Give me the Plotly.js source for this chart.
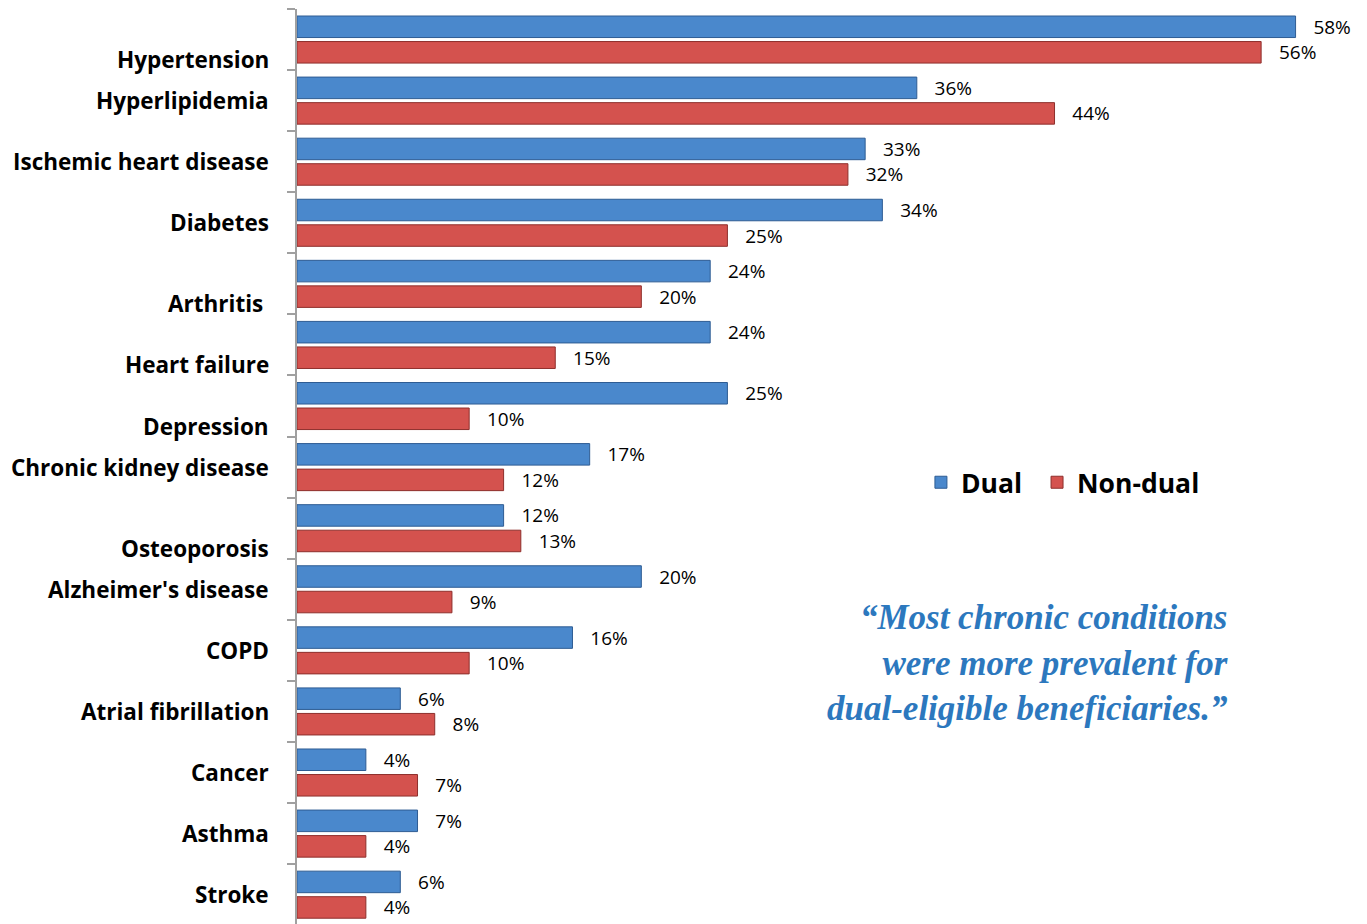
<!DOCTYPE html>
<html>
<head>
<meta charset="utf-8">
<script src="https://cdn.plot.ly/plotly-3.0.1.min.js"></script>
<style>
html,body{margin:0;padding:0;background:#fff;}
#chart{width:1367px;height:924px;}
</style>
</head>
<body>
<div id="chart"></div>
<script>
const categories = ["Hypertension","Hyperlipidemia","Ischemic heart disease","Diabetes","Arthritis","Heart failure","Depression","Chronic kidney disease","Osteoporosis","Alzheimer's disease","COPD","Atrial fibrillation","Cancer","Asthma","Stroke"];
const dualValues = [58,36,33,34,24,24,25,17,12,20,16,6,4,7,6];
const nonDualValues = [56,44,32,25,20,15,10,12,13,9,10,8,7,4,4];
const seriesNames = ["Dual","Non-dual"];
const quoteText = "\u201cMost chronic conditions<br>were more prevalent for<br>dual-eligible beneficiaries.\u201d";

// label vertical offsets (layout styling only)
const labelShift = {"Hypertension":-20,"Arthritis":-20,"Heart failure":-20,"Depression":-20,"Osteoporosis":-20};
const labelXShift = {"Arthritis":-6};

const pad = "\u00a0\u00a0\u00a0";
function mkTrace(vals, name, color, edge, legendId){
  return {
    type:"bar", orientation:"h", name:name, legend:legendId,
    y:categories, x:vals,
    text: vals.map(v => pad + v + "%"),
    textposition:"outside", cliponaxis:false, constraintext:"none",
    textfont:{family:"Open Sans, sans-serif", size:19, color:"#000"},
    marker:{color:color, line:{color:edge, width:1}},
    hoverinfo:"x+y"
  };
}
const data = [
  mkTrace(dualValues, seriesNames[0], "#4A88CC", "#2E5C93", "legend"),
  mkTrace(nonDualValues, seriesNames[1], "#D4524E", "#8E2F2C", "legend2")
];

const annotations = categories.map(c => ({
  xref:"paper", yref:"y", x:0, y:c, xanchor:"right", yanchor:"middle",
  xshift:-26 + (labelXShift[c]||0), yshift:(labelShift[c]||0),
  text:"<b>"+c+"</b>", showarrow:false,
  font:{family:"Open Sans, sans-serif", size:22.5, color:"#000"}
}));
annotations.push({
  xref:"paper", yref:"paper", x:0.903, y:0.285, xanchor:"right", yanchor:"middle",
  align:"right", showarrow:false, text:"<b><i>"+quoteText+"</i></b>",
  font:{family:"Liberation Serif, serif", size:35, color:"#2C78BE"}
});

const legendFont = {family:"Open Sans, sans-serif", size:26.5, color:"#000", weight:"bold"};
const layout = {
  width:1367, height:924,
  margin:{l:297, r:37, t:9, b:0},
  paper_bgcolor:"#fff", plot_bgcolor:"#fff",
  barmode:"group", bargap:0.164, bargroupgap:0.157,
  showlegend:true,
  legend:{orientation:"h", x:0.604, y:0.4825, xanchor:"left", yanchor:"middle", font:legendFont},
  legend2:{orientation:"h", x:0.7164, y:0.4825, xanchor:"left", yanchor:"middle", font:legendFont},
  xaxis:{range:[0,60], visible:false, fixedrange:true},
  yaxis:{type:"category", range:[14.48,-0.5], showticklabels:false,
    tickson:"boundaries", ticks:"outside", ticklen:8, tickcolor:"#A0A0A0", tickwidth:2,
    showline:true, linecolor:"#A0A0A0", linewidth:2, showgrid:false, zeroline:false},
  annotations:annotations
};
Plotly.newPlot("chart", data, layout, {displayModeBar:false, staticPlot:true});
</script>
</body>
</html>
